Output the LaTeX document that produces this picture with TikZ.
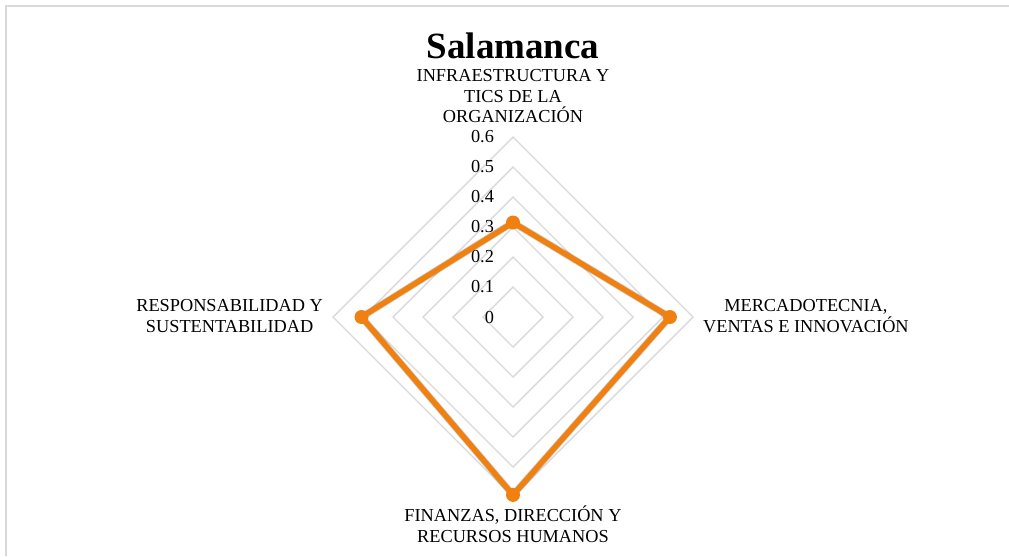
\documentclass[tikz,border=0pt]{standalone}
\usepackage{fontspec}
\setmainfont{Liberation Serif}
\usetikzlibrary{positioning}
\definecolor{anillo}{RGB}{217,217,217}
\definecolor{naranja}{RGB}{240,128,16}

\begin{document}
\begin{tikzpicture}[x=30pt,y=30pt,
  ring/.style={draw=anillo,line width=1.4pt},
  ticklbl/.style={anchor=east,inner sep=0pt,font=\fontsize{18.3}{20.5}\selectfont},
  axislbl/.style={inner sep=0pt,align=center,font=\fontsize{18.3}{20.5}\selectfont},
  serie/.style={draw=naranja,line width=5.5pt,line join=round},
  sombra/.style={draw=black,opacity=0.18,line width=7pt,line join=round},
  marca/.style={circle,fill=naranja,inner sep=0pt,minimum size=14pt}]
 \useasboundingbox (-17.1,-7.967) rectangle (16.533,10.567);
 \draw[anillo,line width=2pt](-16.9,-7.967)--(-16.9,10.367)--(16.533,10.367);
 % anillos
 \draw[ring](0,1)--(1,0)--(0,-1)--(-1,0)--cycle;
 \draw[ring](0,2)--(2,0)--(0,-2)--(-2,0)--cycle;
 \draw[ring](0,3)--(3,0)--(0,-3)--(-3,0)--cycle;
 \draw[ring](0,4)--(4,0)--(0,-4)--(-4,0)--cycle;
 \draw[ring](0,5)--(5,0)--(0,-5)--(-5,0)--cycle;
 \draw[ring](0,6)--(6,0)--(0,-6)--(-6,0)--cycle;
 % escala
 \node[ticklbl] (t0) at (-0.63,0) {0};
 \node[ticklbl] (t1) at (-0.63,1) {0.1};
 \node[ticklbl] (t2) at (-0.63,2) {0.2};
 \node[ticklbl] (t3) at (-0.63,3) {0.3};
 \node[ticklbl] (t4) at (-0.63,4) {0.4};
 \node[ticklbl] (t5) at (-0.63,5) {0.5};
 \node[ticklbl] (t6) at (-0.63,6) {0.6};
 % titulo y ejes
 \node[anchor=base,inner sep=0pt,font=\fontsize{37}{40}\selectfont\bfseries] (titulo) at (0,8.62) {Salamanca};
 \node[axislbl,anchor=south] (infra) at (0,6.47) {INFRAESTRUCTURA Y\\TICS DE LA\\ORGANIZACIÓN};
 \node[axislbl,anchor=west] (merca) at (6.33,0.03) {MERCADOTECNIA,\\VENTAS E INNOVACIÓN};
 \node[axislbl,anchor=north] (finan) at (0,-6.3) {FINANZAS, DIRECCIÓN Y\\RECURSOS HUMANOS};
 \node[axislbl,anchor=east] (respo) at (-6.33,0.03) {RESPONSABILIDAD Y\\SUSTENTABILIDAD};
 % serie
 \coordinate (pinfra) at (0,3.15);
 \coordinate (pmerca) at (5.23,0);
 \coordinate (pfinan) at (0,-5.93);
 \coordinate (prespo) at (-5.05,0);
 \draw[sombra,shift={(0.07,-0.1)}](pinfra)--(pmerca)--(pfinan)--(prespo)--cycle;
 \draw[serie](pinfra)--(pmerca)--(pfinan)--(prespo)--cycle;
 \node[marca] (minfra) at (pinfra) {};
 \node[marca] (mmerca) at (pmerca) {};
 \node[marca] (mfinan) at (pfinan) {};
 \node[marca] (mrespo) at (prespo) {};
\end{tikzpicture}
\end{document}
